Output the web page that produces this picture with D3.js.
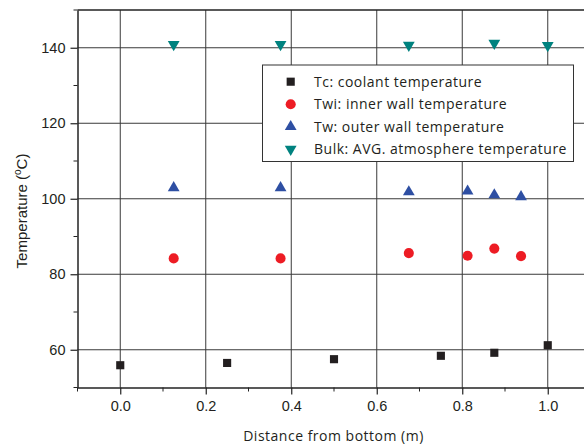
<!DOCTYPE html>
<html>
<head>
<meta charset="utf-8">
<script src="https://cdn.jsdelivr.net/npm/d3@7"></script>
<style>
  body { margin: 0; background: white; }
</style>
</head>
<body>
<div id="container"></div>
<script>
let w = 584;
let h = 445;

// data
let tcX = [0.0, 0.25, 0.5, 0.75, 0.875, 1.0];
let tcY = [55.9, 56.5, 57.5, 58.4, 59.2, 61.2];

let twiX = [0.125, 0.375, 0.675, 0.8125, 0.875, 0.9375];
let twiY = [84.2, 84.2, 85.6, 84.9, 86.8, 84.8];

let twX = [0.125, 0.375, 0.675, 0.8125, 0.875, 0.9375];
let twY = [102.9, 102.9, 101.8, 102.0, 101.0, 100.5];

let bulkX = [0.125, 0.375, 0.675, 0.875, 1.0];
let bulkY = [140.9, 140.9, 140.7, 141.2, 140.6];

let xTicks = [0.0, 0.2, 0.4, 0.6, 0.8, 1.0];
let yTicks = [60, 80, 100, 120, 140];
let xMinor = [-0.1, 0.1, 0.3, 0.5, 0.7, 0.9, 1.1];
let yMinor = [50, 70, 90, 110, 130, 150];

let legendLabels = [
  "Tc: coolant temperature",
  "Twi: inner wall temperature",
  "Tw: outer wall temperature",
  "Bulk: AVG. atmosphere temperature"
];

let pLeft = 77.5, pRight = 590.5, pTop = 10, pBottom = 387.5;

let x = d3.scaleLinear().domain([-0.1, 1.1]).range([pLeft, pRight]);
let y = d3.scaleLinear().domain([50, 150]).range([pBottom, pTop]);

let viz = d3.select("#container")
  .append("svg")
    .attr("width", w)
    .attr("height", h)
    .style("background-color", "white")
;

// grid
viz.append("g").selectAll("line").data(xTicks).enter()
  .append("line")
    .attr("x1", d => x(d)).attr("x2", d => x(d))
    .attr("y1", pTop).attr("y2", pBottom)
    .style("stroke", "#3a3a3a")
    .style("stroke-width", 1)
;
viz.append("g").selectAll("line").data(yTicks).enter()
  .append("line")
    .attr("x1", pLeft).attr("x2", w)
    .attr("y1", d => y(d)).attr("y2", d => y(d))
    .style("stroke", "#3a3a3a")
    .style("stroke-width", 1)
;

// axes
let xAxis = d3.axisBottom(x).tickValues(xTicks).tickFormat(d3.format(".1f")).tickSizeInner(7).tickSizeOuter(0).tickPadding(6);
let yAxis = d3.axisLeft(y).tickValues(yTicks).tickFormat(d3.format("d")).tickSizeInner(7).tickSizeOuter(0).tickPadding(5);

let gx = viz.append("g")
  .attr("transform", "translate(0," + pBottom + ")")
  .call(xAxis);
gx.append("g").selectAll("line").data(xMinor).enter()
  .append("line")
    .attr("x1", d => x(d)).attr("x2", d => x(d))
    .attr("y1", 0).attr("y2", 4)
    .style("stroke", "#222")
;

let gy = viz.append("g")
  .attr("transform", "translate(" + pLeft + ",0)")
  .call(yAxis);
gy.append("g").selectAll("line").data(yMinor).enter()
  .append("line")
    .attr("x1", 0).attr("x2", -4)
    .attr("y1", d => y(d)).attr("y2", d => y(d))
    .style("stroke", "#222")
;

[gx, gy].forEach(function(g){
  g.select(".domain").style("stroke", "#222").style("stroke-width", 1.5);
  g.selectAll(".tick line").style("stroke", "#222").style("stroke-width", 1.2);
  g.selectAll(".tick text")
    .style("font-family", "Liberation Sans, Arial, sans-serif")
    .style("font-size", "14.5px")
    .style("fill", "#231f20");
});

// top frame line
viz.append("line")
  .attr("x1", pLeft).attr("x2", w)
  .attr("y1", pTop).attr("y2", pTop)
  .style("stroke", "#222")
  .style("stroke-width", 1.5)
;

// axis titles
viz.append("text")
  .text("Distance from bottom (m)")
  .attr("x", 333.5)
  .attr("y", 441)
  .attr("text-anchor", "middle")
  .style("font-family", "Open Sans, sans-serif")
  .style("font-size", "14px")
  .style("letter-spacing", "0.5px")
  .style("fill", "#231f20")
;

let yTitle = viz.append("text")
  .attr("transform", "translate(27,211) rotate(-90)")
  .attr("text-anchor", "middle")
  .style("font-family", "Liberation Sans, Arial, sans-serif")
  .style("font-size", "15px")
  .style("fill", "#231f20")
;
yTitle.append("tspan").text("Temperature (");
yTitle.append("tspan").text("o").attr("dy", -6).style("font-size", "10px");
yTitle.append("tspan").text("C)").attr("dy", 6);

// markers
let colors = ["#231f20", "#ed1c24", "#2e4fa3", "#00827f"];
let sym = [
  d3.symbol().type(d3.symbolSquare).size(66),
  d3.symbol().type(d3.symbolCircle).size(80),
  d3.symbol().type(d3.symbolTriangle).size(60),
  d3.symbol().type(d3.symbolTriangle).size(60)
];
let series = [
  tcX.map((v, i) => [v, tcY[i]]),
  twiX.map((v, i) => [v, twiY[i]]),
  twX.map((v, i) => [v, twY[i]]),
  bulkX.map((v, i) => [v, bulkY[i]])
];

series.forEach(function(s, k){
  viz.append("g").selectAll("path").data(s).enter()
    .append("path")
      .attr("d", sym[k])
      .attr("transform", d => "translate(" + x(d[0]) + "," + y(d[1]) + ")" + (k === 3 ? " rotate(180)" : ""))
      .style("fill", colors[k])
  ;
});

// legend
let lg = viz.append("g");
lg.append("rect")
  .attr("x", 262.5).attr("y", 65)
  .attr("width", 311).attr("height", 96.5)
  .style("fill", "white")
  .style("stroke", "#333")
  .style("stroke-width", 1)
;
legendLabels.forEach(function(t, k){
  let cy = 81.7 + k * 22.5;
  lg.append("path")
    .attr("d", sym[k])
    .attr("transform", "translate(290.7," + cy + ")" + (k === 3 ? " rotate(180)" : ""))
    .style("fill", colors[k]);
  lg.append("text")
    .text(t)
    .attr("x", 314)
    .attr("y", cy + 5)
    .style("font-family", "Open Sans, sans-serif")
    .style("font-size", "14px")
    .style("letter-spacing", "0.5px")
    .style("fill", "#231f20");
});
</script>
</body>
</html>
